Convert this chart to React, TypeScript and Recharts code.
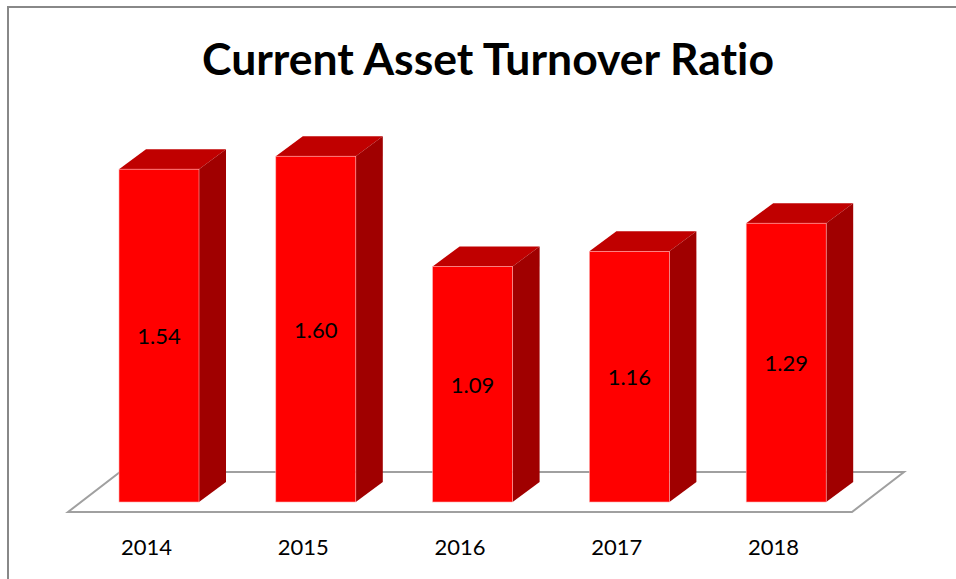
import { BarChart, Bar, XAxis, YAxis, ReferenceArea, LabelList } from "recharts";

const years = ["2014", "2015", "2016", "2017", "2018"];
const ratios = [1.54, 1.6, 1.09, 1.16, 1.29];

const data = years.map((year, i) => ({ year, ratio: ratios[i] }));

// 3D offsets
const DX = 27;
const DY = 20;
const SHIFT_X = 13;
const SHIFT_Y = 10;
const FLOOR_DX = 52;
const FLOOR_DY = 40;

function Bar3D(props: any) {
  const { x, y, width, height } = props;
  const fx = x + SHIFT_X;
  const fy = y - SHIFT_Y;
  const w = width;
  const h = height;
  return (
    <g>
      <polygon
        points={`${fx},${fy} ${fx + DX},${fy - DY} ${fx + w + DX},${fy - DY} ${fx + w},${fy}`}
        fill="#C00000"
      />
      <polygon
        points={`${fx + w},${fy} ${fx + w + DX},${fy - DY} ${fx + w + DX},${fy + h - DY} ${fx + w},${fy + h}`}
        fill="#A00000"
      />
      <rect x={fx} y={fy} width={w} height={h} fill="#FF0000" stroke="#ffb0b0" strokeWidth={0.6} />
    </g>
  );
}

function Floor(props: any) {
  const { x, y, width, height } = props;
  const b = y + height;
  return (
    <polygon
      points={`${x},${b} ${x + FLOOR_DX},${b - FLOOR_DY} ${x + width + FLOOR_DX},${b - FLOOR_DY} ${x + width},${b}`}
      fill="none"
      stroke="#a0a0a0"
      strokeWidth={2}
    />
  );
}

function ValueLabel(props: any) {
  const { x, y, width, height, value } = props;
  return (
    <text
      x={x + SHIFT_X + width / 2}
      y={y - SHIFT_Y + height / 2}
      textAnchor="middle"
      dominantBaseline="central"
      fontSize={22}
      fontFamily="Lato, sans-serif"
      fill="#000"
    >
      {Number(value).toFixed(2)}
    </text>
  );
}

function YearTick(props: any) {
  const { x, y, payload } = props;
  return (
    <text
      x={x}
      y={y + 32}
      textAnchor="middle"
      dominantBaseline="central"
      fontSize={22}
      fontFamily="Lato, sans-serif"
      fill="#000"
    >
      {payload.value}
    </text>
  );
}

export default function App() {
  return (
    <div
      style={{
        position: "absolute",
        left: 0,
        top: 0,
        width: 956,
        height: 579,
        overflow: "hidden",
        background: "#fff",
      }}
    >
      <div
        style={{
          position: "absolute",
          left: 7,
          top: 6,
          width: 1000,
          height: 700,
          border: "2px solid #888",
        }}
      />
      <div
        style={{
          position: "absolute",
          left: 0,
          top: 29,
          width: 976,
          textAlign: "center",
          fontFamily: "Lato, sans-serif",
          fontWeight: 700,
          fontSize: 44.5,
          lineHeight: "58px",
          fontVariantLigatures: "none",
          color: "#000",
        }}
      >
        Current Asset Turnover Ratio
      </div>
      <div style={{ position: "absolute", left: 0, top: 0 }}>
        <BarChart
          width={956}
          height={579}
          data={data}
          margin={{ top: 123, right: 104, left: 68, bottom: 0 }}
          barSize={80}
        >
          <XAxis
            dataKey="year"
            height={67}
            axisLine={false}
            tickLine={false}
            tickSize={0}
            tick={<YearTick />}
            interval={0}
          />
          <YAxis hide domain={[0, 1.8]} />
          <ReferenceArea x1="2014" x2="2018" shape={<Floor />} ifOverflow="visible" />
          <Bar dataKey="ratio" shape={<Bar3D />} isAnimationActive={false}>
            <LabelList dataKey="ratio" content={<ValueLabel />} />
          </Bar>
        </BarChart>
      </div>
    </div>
  );
}
